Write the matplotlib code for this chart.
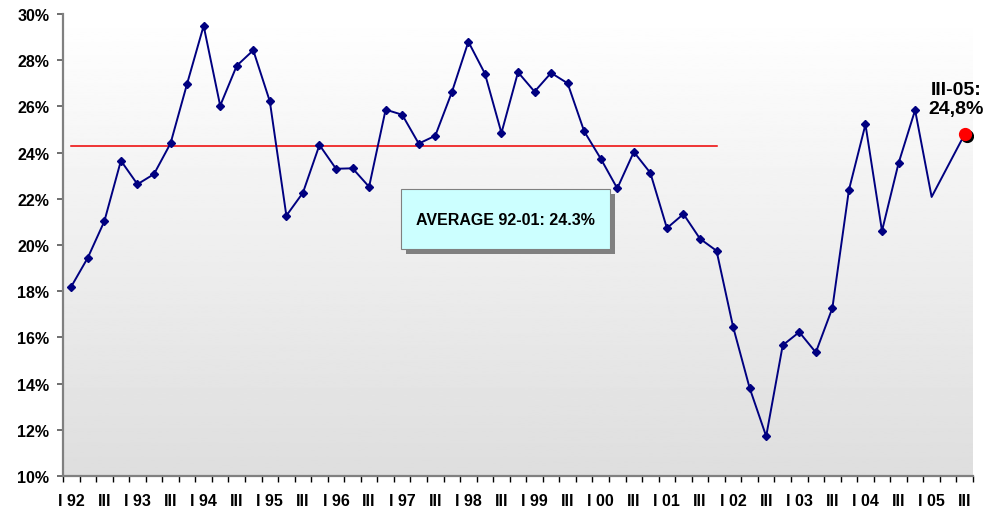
import numpy as np
import matplotlib
matplotlib.use("Agg")
import matplotlib.pyplot as plt
from matplotlib.patches import Rectangle

plt.rcParams['font.family'] = ['Liberation Sans', 'DejaVu Sans']
plt.rcParams['font.weight'] = 'bold'

# quarterly values, 1992 Q1 .. 2005 Q3 (2005 Q2 not reported)
years = ['92', '93', '94', '95', '96', '97', '98', '99', '00', '01', '02', '03', '04', '05']
values = [18.2, 19.45, 21.03, 23.65, 22.63, 23.07, 24.4, 26.98,
          29.49, 26.03, 27.76, 28.43, 26.22, 21.27, 22.26, 24.33,
          23.3, 23.32, 22.52, 25.86, 25.64, 24.39, 24.73, 26.61,
          28.8, 27.42, 24.85, 27.48, 26.64, 27.45, 27.0, 24.92,
          23.74, 22.45, 24.03, 23.12, 20.73, 21.34, 20.27, 19.75,
          16.46, 13.81, 11.72, 15.66, 16.23, 15.35, 17.27, 22.38,
          25.22, 20.61, 23.54, 25.84, 22.08, None, 24.8]
n_marked = 52          # markers shown up to 2004 Q4
avg_value = 24.3       # average 1992-2001
avg_span = 40          # quarters covered by the average
last_label = 'III-05:\n24,8%'
avg_label = 'AVERAGE 92-01: 24.3%'

tick_labels = []
for y in years:
    tick_labels += ['I ' + y, '', 'III', '']
tick_labels = tick_labels[:len(values)]

vals = np.array([np.nan if v is None else v for v in values])
x = np.arange(len(vals))
ok = ~np.isnan(vals)

fig = plt.figure(figsize=(9.99, 5.10), dpi=100)
ax = fig.add_axes([63 / 999, 1 - 477 / 510, 910 / 999, 462 / 510])

# background gradient of the plot area
grad = np.linspace(0.87, 1.0, 256).reshape(-1, 1)
ax.imshow(grad, cmap='gray', vmin=0, vmax=1, aspect='auto', origin='lower',
          extent=[0, 1, 0, 1], transform=ax.transAxes, zorder=0)

navy = '#000080'
ax.plot(x[ok], vals[ok], color=navy, lw=1.4, zorder=3)
ax.plot(x[:n_marked], vals[:n_marked], ls='none', marker='D', ms=4.2,
        color=navy, zorder=4)

# average line
ax.plot([x[0], x[avg_span - 1]], [avg_value, avg_value], color='#ee0000', lw=1.1, zorder=2)

# last point highlighted
ax.plot(x[-1] + 0.12, vals[-1] - 0.09, 'o', ms=8.5, color='black', zorder=5)
ax.plot(x[-1], vals[-1], 'o', ms=8.5, color='red', zorder=6)
ax.text(x[-1] - 0.5, vals[-1] + 0.72, last_label, ha='center', va='bottom',
        fontsize=14, fontweight='bold', linespacing=1.2, zorder=6)

# average box with shadow
bx, by, bw, bh = 0.371, 0.491, 0.230, 0.130
ax.add_patch(Rectangle((bx + 0.0055, by - 0.011), bw, bh, transform=ax.transAxes,
                       facecolor='#808080', edgecolor='none', zorder=6))
ax.add_patch(Rectangle((bx, by), bw, bh, transform=ax.transAxes,
                       facecolor='#ccffff', edgecolor='#808080', lw=0.8, zorder=7))
ax.text(bx + bw / 2, by + bh / 2, avg_label, transform=ax.transAxes, ha='center',
        va='center', fontsize=11.5, fontweight='bold', zorder=8)

ax.set_xlim(-0.5, len(vals) - 0.5)
ax.set_ylim(10, 30)
ax.set_yticks(np.arange(10, 31, 2))
ax.set_yticklabels([f'{v}%' for v in range(10, 31, 2)])
ax.set_xticks(x)
ax.set_xticklabels(tick_labels)
ax.set_xticks(np.arange(-0.5, len(vals)), minor=True)

ax.tick_params(axis='x', which='major', length=0, pad=12, labelsize=11.5)
ax.tick_params(axis='x', which='minor', length=4, width=1, color='black')
ax.tick_params(axis='y', length=4, width=1.2, color='#555555', pad=6, labelsize=11.5)

for s in ['top', 'right']:
    ax.spines[s].set_visible(False)
for s in ['left', 'bottom']:
    ax.spines[s].set_color('#808080')
    ax.spines[s].set_linewidth(1.6)

fig.savefig('out.png', dpi=100)
